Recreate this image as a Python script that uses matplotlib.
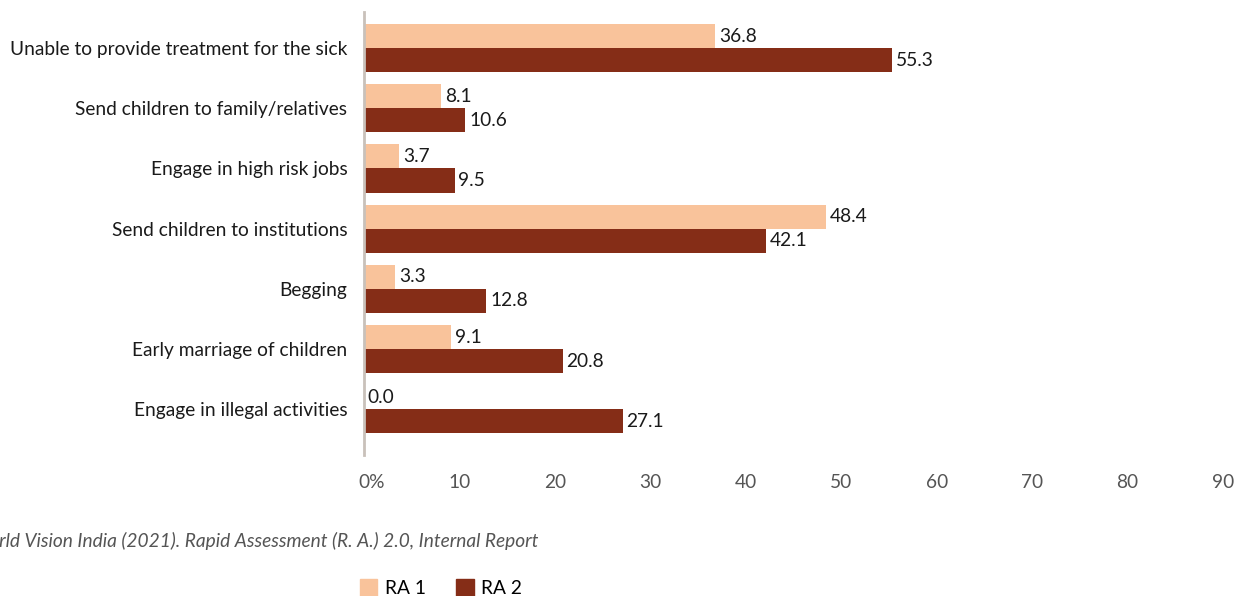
import matplotlib.pyplot as plt
import matplotlib.transforms as mtransforms
from matplotlib.patches import Patch
import numpy as np

plt.rcParams['font.family'] = ['Lato', 'DejaVu Sans']

categories = ['Unable to provide treatment for the sick',
              'Send children to family/relatives',
              'Engage in high risk jobs',
              'Send children to institutions',
              'Begging',
              'Early marriage of children',
              'Engage in illegal activities']
ra1 = [36.8, 8.1, 3.7, 48.4, 3.3, 9.1, 0.0]
ra2 = [55.3, 10.6, 9.5, 42.1, 12.8, 20.8, 27.1]
xticks = [0, 10, 20, 30, 40, 50, 60, 70, 80, 90]
xticklabels = ['0%', '10', '20', '30', '40', '50', '60', '70', '80', '90']
source = 'World Vision India (2021). Rapid Assessment (R. A.) 2.0, Internal Report'

c1 = '#F9C39B'
c2 = '#852D17'
fs = 13.8

fig = plt.figure(figsize=(12.39, 5.96), dpi=100)
ax = fig.add_axes([364/1239, 1-455/596, (1223-364)/1239, (455-12)/596])

y = np.arange(len(categories))
h = 0.4
ax.barh(y - h/2, ra1, height=h, color=c1)
ax.barh(y + h/2, ra2, height=h, color=c2)

for yi, v in zip(y, ra1):
    ax.text(v + 0.4, yi - h/2, f'{v:.1f}', va='center', ha='left', fontsize=fs, color='#1a1a1a')
for yi, v in zip(y, ra2):
    ax.text(v + 0.4, yi + h/2, f'{v:.1f}', va='center', ha='left', fontsize=fs, color='#1a1a1a')

ax.set_xlim(0, 90)
ax.set_ylim(6.76, -0.6)
ax.set_yticks(y)
ax.set_yticklabels(categories, fontsize=fs, color='#1a1a1a')
ax.set_xticks(xticks)
ax.set_xticklabels(xticklabels, fontsize=fs, color='#555555')
ax.tick_params(axis='both', length=0)
ax.tick_params(axis='y', pad=12)
ax.tick_params(axis='x', pad=14)
# nudge the "0%" label right a little, like the original
first = ax.get_xticklabels()[0]
first.set_transform(first.get_transform() + mtransforms.ScaledTranslation(8/100, 0, fig.dpi_scale_trans))
for s in ['top', 'right', 'bottom']:
    ax.spines[s].set_visible(False)
ax.spines['left'].set_color('#C9C1BA')
ax.spines['left'].set_linewidth(2)

fig.text(-29/1239, 1-541/596, source, fontsize=fs, style='italic', color='#555555', va='center', ha='left')

handles = [Patch(color=c1, label='RA 1'), Patch(color=c2, label='RA 2')]
fig.legend(handles=handles, loc='center', bbox_to_anchor=(441/1239, 1-588/596), ncol=2,
           frameon=False, fontsize=fs, handlelength=0.9, handleheight=1.0,
           handletextpad=0.4, columnspacing=1.6)

fig.savefig('out.png', dpi=100)
